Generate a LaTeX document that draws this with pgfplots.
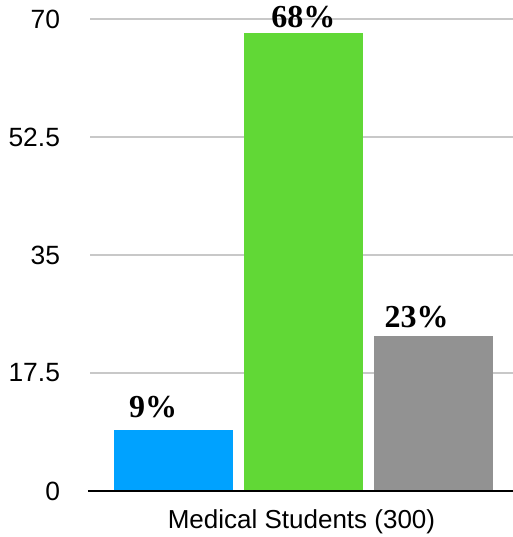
\documentclass[border=0pt]{standalone}
\usepackage{pgfplots}
\pgfplotsset{compat=1.18}
\usepackage{fontspec}
\setmainfont{Liberation Sans}
\newfontfamily\barfont{Liberation Serif}
\definecolor{kblue}{HTML}{00A2FF}
\definecolor{kgreen}{HTML}{61D836}
\definecolor{kgray}{HTML}{929292}
\definecolor{kgrid}{HTML}{C8C8C8}
\begin{document}
\begin{tikzpicture}
\begin{axis}[
    scale only axis,
    width=211.5pt, height=236pt,
    xmin=-0.638, xmax=2.61,
    ymin=0, ymax=70,
    ytick={0,17.5,35,52.5,70},
    yticklabels={0,17.5,35,52.5,70},
    xtick=\empty,
    ymajorgrids,
    grid style={kgrid, line width=0.6pt},
    axis line style={draw=none},
    major tick length=0pt,
    yticklabel style={font=\fontsize{13.2}{15}\selectfont, xshift=-11.5pt},
    xlabel={Medical Students (300)},
    xlabel style={font=\fontsize{13}{15}\selectfont, yshift=-6pt},
    /pgf/number format/assume math mode=true,
    ybar, bar width=0.915, bar shift=0pt,
    nodes near coords={\pgfmathprintnumber{\pgfplotspointmeta}\%},
    every node near coord/.append style={font=\barfont\bfseries\fontsize{16}{18}\selectfont, text=black, inner sep=2pt},
    clip=false,
]
\addplot[fill=kblue, draw=none,
    every node near coord/.append style={xshift=-10pt, yshift=4pt}] coordinates {(0,9)};
\addplot[fill=kgreen, draw=none] coordinates {(1,68)};
\addplot[fill=kgray, draw=none,
    every node near coord/.append style={xshift=-8.5pt, yshift=2pt}] coordinates {(2,23)};
\draw[black, line width=1.1pt] (rel axis cs:-0.005,0) -- (rel axis cs:1,0);
\coordinate (bl) at (rel axis cs:-0.2128,-0.0975);
\coordinate (tr) at (rel axis cs:1,1.0403);
\end{axis}
\pgfresetboundingbox
\useasboundingbox (bl) rectangle (tr);
\end{tikzpicture}
\end{document}
